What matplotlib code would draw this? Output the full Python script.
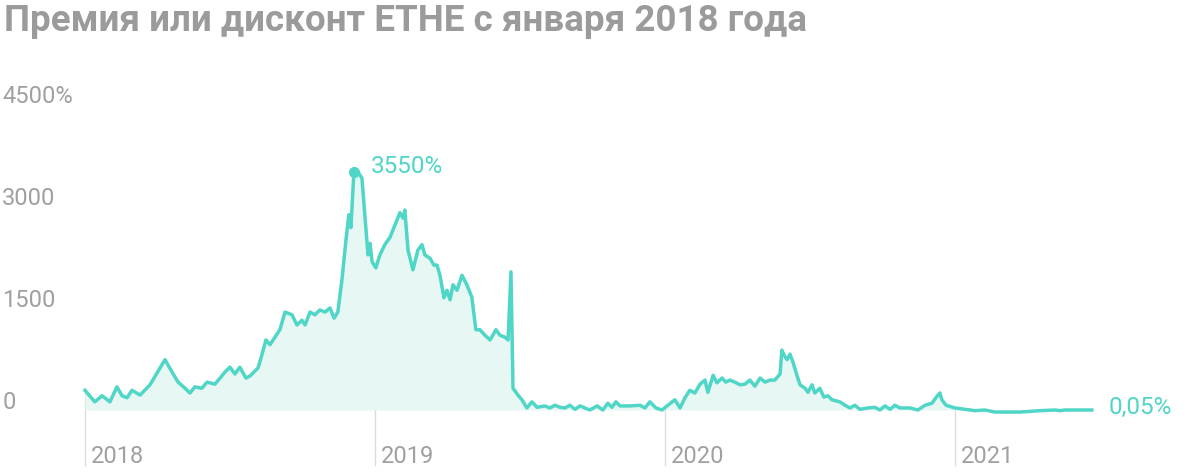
import numpy as np
import matplotlib.pyplot as plt

# годы (доли от 2018) и премия, %
t = [0.000, .034, .059, .086, .110, .128, .145, .162, .190, .224, .259, .276, .300, .321, .345, .362, .379, .403, .421, .448,
     .466, .483, .500, .517, .534, .555, .569, .597, .610, .624, .638, .655, .672, .690, .714, .731, .748, .759, .776, .793,
     .810, .828, .845, .859, .872, .886, .900, .910, .917, .928, .941, .955, .969, .976, .983, .990, 1.003, 1.017, 1.034, 1.052,
     1.069, 1.086, 1.097, 1.103, 1.114, 1.131, 1.148, 1.162, 1.172, 1.190, 1.203, 1.214, 1.224, 1.238, 1.248, 1.259, 1.269, 1.283, 1.300, 1.317,
     1.334, 1.348, 1.362, 1.379, 1.397, 1.417, 1.431, 1.448, 1.459, 1.469, 1.476, 1.493, 1.507, 1.524, 1.541, 1.559, 1.586, 1.603, 1.621, 1.638,
     1.655, 1.672, 1.690, 1.707, 1.741, 1.766, 1.786, 1.803, 1.817, 1.831, 1.845, 1.879, 1.914, 1.931, 1.948, 1.969, 1.990, 2.010, 2.034, 2.052,
     2.069, 2.086, 2.103, 2.121, 2.138, 2.148, 2.166, 2.179, 2.197, 2.210, 2.224, 2.241, 2.259, 2.276, 2.293, 2.310, 2.328, 2.345, 2.362, 2.379,
     2.397, 2.403, 2.410, 2.421, 2.431, 2.441, 2.455, 2.466, 2.483, 2.493, 2.507, 2.517, 2.534, 2.548, 2.562, 2.576, 2.603, 2.621, 2.638, 2.655,
     2.672, 2.700, 2.724, 2.741, 2.759, 2.776, 2.793, 2.810, 2.845, 2.872, 2.897, 2.921, 2.934, 2.948, 2.955, 2.969, 3.000, 3.034, 3.069, 3.103,
     3.138, 3.224, 3.293, 3.345, 3.362, 3.379, 3.472]
premia = [290, 120, 210, 120, 340, 210, 180, 290, 220, 370, 620, 740, 560, 410, 320, 250, 340, 320, 410, 380,
          470, 560, 630, 530, 630, 470, 500, 620, 810, 1030, 960, 1070, 1180, 1440, 1400, 1250, 1320, 1250, 1440, 1400,
          1470, 1440, 1500, 1350, 1440, 1910, 2500, 2870, 2680, 3550, 3500, 3410, 2650, 2280, 2450, 2180, 2090, 2280, 2430, 2540,
          2720, 2900, 2820, 2940, 2350, 2060, 2350, 2430, 2280, 2230, 2130, 2130, 1980, 1650, 1760, 1620, 1840, 1760, 1980, 1840,
          1660, 1180, 1180, 1100, 1030, 1180, 1100, 1070, 1030, 2030, 320, 220, 150, 30, 120, 40, 60, 30, 70, 40,
          30, 70, 10, 60, 0, 60, 0, 100, 40, 120, 60, 60, 70, 30, 120, 30, 0, 70, 150, 30,
          180, 290, 250, 380, 440, 260, 510, 400, 470, 410, 440, 410, 370, 380, 440, 350, 470, 410, 440, 440,
          530, 880, 810, 740, 820, 710, 510, 370, 320, 260, 370, 250, 320, 190, 210, 150, 120, 70, 30, 70,
          10, 30, 40, 0, 60, 10, 70, 30, 30, 0, 70, 100, 180, 250, 150, 70, 30, 10, -10, 0,
          -30, -30, -10, 0, -10, 0, 0]
years = ["2018", "2019", "2020", "2021"]
yticks = [0, 1500, 3000, 4500]
ylabels = ["0", "1500", "3000", "4500%"]

teal = "#4fd6c6"
grey = "#a0a0a0"

plt.rcParams['font.family'] = ['Roboto', 'DejaVu Sans']
fig = plt.figure(figsize=(12, 4.73), dpi=100)
ax = fig.add_axes([0, 0, 1, 1])
ax.set_xlim(-0.293, 3.845)
ax.set_ylim(-926, 6027)
ax.axis('off')

ax.fill_between(t, premia, 0, color="#e6f7f4", lw=0)
ax.plot(t, premia, color=teal, lw=2.5)

for i, y in enumerate(years):
    top = np.interp(i, t, premia)
    ax.plot([i, i], [-810, top], color="#dcdcdc", lw=1, zorder=0)
    ax.text(i + 0.02, -680, y, fontsize=17, color=grey, va='center')

for v, lab in zip(yticks, ylabels):
    ax.text(-0.285, v + 110, lab, fontsize=17, color=grey, va='center')

ax.plot(t[premia.index(3550)], 3500, 'o', color=teal, ms=7)
ax.text(0.985, 3580, "3550%", fontsize=17.5, color=teal, va='center')
ax.text(3.53, 30, "0,05%", fontsize=17.5, color=teal, va='center')

fig.text(0.003, 0.955, "Премия или дисконт ETHE с января 2018 года", fontsize=26.5,
         fontweight='bold', color="#9b9b9b", va='center')

fig.savefig("out.png", dpi=100)
